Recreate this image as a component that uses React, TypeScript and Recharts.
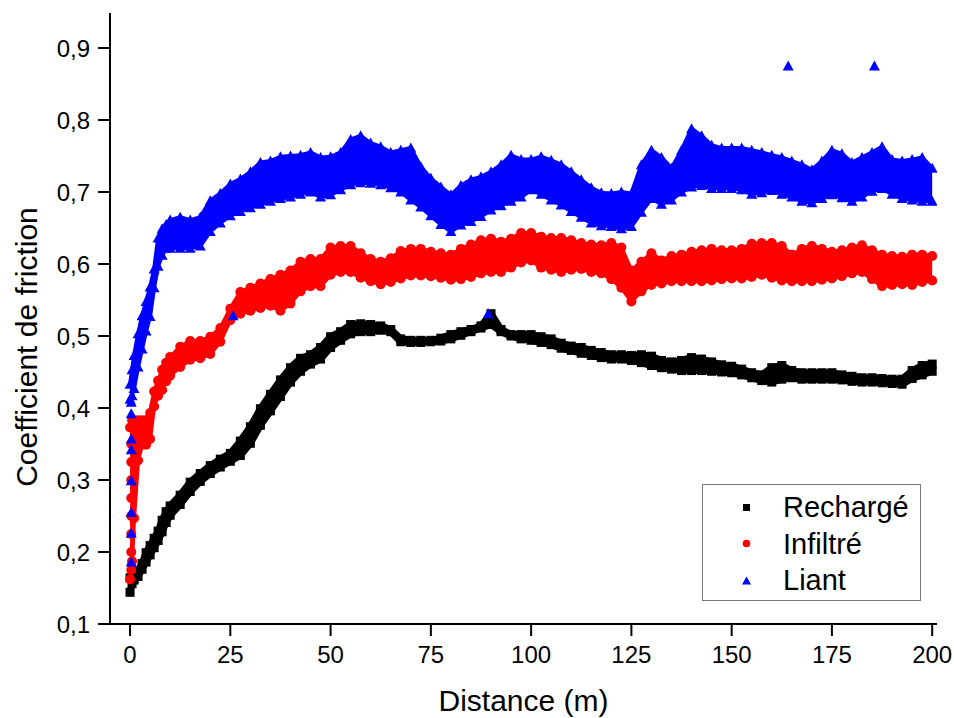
import { ComposedChart, Area, Scatter, XAxis, YAxis, Legend, Label } from 'recharts'

const F = '"Liberation Sans", Arial, sans-serif'
const BLACK = '#000000'
const RED = '#ff0000'
const BLUE = '#0000ff'

// distance (m) where the band edges were read
const DIST = [
  0, 0.5, 1, 2, 3, 4, 5, 6, 7, 8, 9,
  10, 12.5, 15, 17.5, 20, 22.5, 25, 27.5, 30, 32.5, 35, 37.5, 40, 42.5, 45, 47.5,
  50, 52.5, 55, 57.5, 60, 62.5, 65, 67.5, 70, 72.5, 75, 77.5, 80, 82.5, 85, 87.5, 90, 92.5, 95, 97.5,
  100, 102.5, 105, 107.5, 110, 112.5, 115, 117.5, 120, 122.5, 125, 127.5, 130, 132.5, 135, 137.5, 140, 142.5, 145, 147.5,
  150, 152.5, 155, 157.5, 160, 162.5, 165, 167.5, 170, 172.5, 175, 177.5, 180, 182.5, 185, 187.5, 190, 192.5, 195, 197.5, 200,
]

// Rechargé : upper / lower edge of the point cloud
const RECHARGE_HI = [
  0.164, 0.164, 0.164, 0.174, 0.184, 0.199, 0.209, 0.219, 0.229, 0.244, 0.256,
  0.264, 0.279, 0.297, 0.309, 0.32, 0.329, 0.337, 0.354, 0.374, 0.399, 0.419, 0.439, 0.456, 0.469, 0.474, 0.484,
  0.499, 0.506, 0.516, 0.517, 0.516, 0.514, 0.509, 0.496, 0.494, 0.494, 0.494, 0.497, 0.502, 0.506, 0.509, 0.514, 0.531, 0.509, 0.502, 0.502,
  0.502, 0.499, 0.496, 0.49, 0.486, 0.484, 0.48, 0.477, 0.474, 0.474, 0.473, 0.474, 0.472, 0.466, 0.464, 0.466, 0.47, 0.468, 0.464, 0.46,
  0.458, 0.454, 0.449, 0.446, 0.456, 0.459, 0.452, 0.449, 0.449, 0.449, 0.449, 0.446, 0.444, 0.442, 0.442, 0.441, 0.44, 0.44, 0.452, 0.459, 0.461,
]
const RECHARGE_LO = [
  0.144, 0.156, 0.161, 0.166, 0.176, 0.186, 0.196, 0.206, 0.216, 0.228, 0.241,
  0.251, 0.266, 0.284, 0.298, 0.309, 0.318, 0.326, 0.334, 0.351, 0.376, 0.396, 0.416, 0.436, 0.451, 0.461, 0.468,
  0.484, 0.494, 0.503, 0.506, 0.506, 0.508, 0.506, 0.492, 0.491, 0.491, 0.492, 0.493, 0.496, 0.501, 0.506, 0.511, 0.516, 0.506, 0.5, 0.496,
  0.494, 0.491, 0.488, 0.483, 0.48, 0.476, 0.473, 0.47, 0.468, 0.468, 0.466, 0.463, 0.459, 0.456, 0.454, 0.452, 0.452, 0.452, 0.451, 0.45,
  0.449, 0.446, 0.442, 0.438, 0.436, 0.44, 0.442, 0.44, 0.44, 0.44, 0.44, 0.439, 0.437, 0.436, 0.436, 0.435, 0.434, 0.433, 0.441, 0.446, 0.451,
]

// Infiltré
const INFILTRE_HI = [
  0.373, 0.383, 0.383, 0.383, 0.383, 0.383, 0.393, 0.423, 0.438, 0.453, 0.463,
  0.471, 0.485, 0.493, 0.493, 0.499, 0.511, 0.538, 0.561, 0.567, 0.573, 0.579, 0.585, 0.591, 0.603, 0.607, 0.607,
  0.623, 0.625, 0.625, 0.615, 0.607, 0.603, 0.608, 0.618, 0.621, 0.621, 0.617, 0.615, 0.613, 0.621, 0.627, 0.633, 0.635, 0.631, 0.635, 0.643,
  0.643, 0.638, 0.636, 0.636, 0.633, 0.629, 0.627, 0.626, 0.629, 0.623, 0.591, 0.603, 0.615, 0.605, 0.611, 0.613, 0.617, 0.619, 0.621, 0.619,
  0.619, 0.621, 0.628, 0.629, 0.629, 0.625, 0.613, 0.621, 0.625, 0.621, 0.617, 0.619, 0.623, 0.626, 0.619, 0.613, 0.611, 0.61, 0.613, 0.613, 0.611,
]
const INFILTRE_LO = [
  0.162, 0.187, 0.247, 0.327, 0.349, 0.349, 0.357, 0.402, 0.417, 0.425, 0.437,
  0.445, 0.457, 0.467, 0.469, 0.475, 0.492, 0.522, 0.531, 0.535, 0.539, 0.542, 0.535, 0.545, 0.562, 0.569, 0.569,
  0.585, 0.589, 0.589, 0.581, 0.576, 0.572, 0.575, 0.58, 0.584, 0.584, 0.583, 0.581, 0.578, 0.579, 0.582, 0.587, 0.589, 0.589, 0.595, 0.602,
  0.605, 0.595, 0.592, 0.589, 0.592, 0.593, 0.589, 0.587, 0.579, 0.567, 0.548, 0.562, 0.571, 0.573, 0.576, 0.576, 0.576, 0.576, 0.577, 0.579,
  0.58, 0.58, 0.582, 0.585, 0.581, 0.577, 0.576, 0.576, 0.576, 0.578, 0.58, 0.583, 0.587, 0.589, 0.579, 0.569, 0.571, 0.572, 0.571, 0.575, 0.577,
]
// the vertical run of points at the very start (d = 0.3 m)
const INFILTRE_DEBUT = [0.175, 0.2, 0.225, 0.25, 0.275, 0.3, 0.325, 0.35]

// Liant
const LIANT_HI = [
  0.433, 0.453, 0.473, 0.503, 0.528, 0.548, 0.568, 0.593, 0.636, 0.649, 0.655,
  0.661, 0.665, 0.661, 0.665, 0.688, 0.698, 0.711, 0.718, 0.728, 0.741, 0.743, 0.749, 0.75, 0.751, 0.755, 0.748,
  0.749, 0.755, 0.773, 0.778, 0.768, 0.763, 0.755, 0.758, 0.761, 0.735, 0.719, 0.707, 0.696, 0.709, 0.717, 0.721, 0.728, 0.738, 0.751, 0.745,
  0.745, 0.749, 0.744, 0.738, 0.728, 0.717, 0.706, 0.699, 0.698, 0.7, 0.698, 0.738, 0.758, 0.748, 0.733, 0.758, 0.788, 0.778, 0.765, 0.761,
  0.761, 0.761, 0.758, 0.755, 0.751, 0.748, 0.743, 0.738, 0.731, 0.743, 0.758, 0.753, 0.741, 0.748, 0.755, 0.763, 0.745, 0.743, 0.745, 0.748, 0.733,
]
const LIANT_LO = [
  0.412, 0.417, 0.427, 0.457, 0.482, 0.507, 0.527, 0.567, 0.597, 0.612, 0.622,
  0.622, 0.622, 0.622, 0.625, 0.645, 0.657, 0.667, 0.673, 0.678, 0.683, 0.687, 0.691, 0.693, 0.697, 0.7, 0.693,
  0.696, 0.703, 0.71, 0.713, 0.712, 0.71, 0.706, 0.7, 0.689, 0.679, 0.667, 0.655, 0.645, 0.654, 0.659, 0.666, 0.675, 0.681, 0.687, 0.693,
  0.703, 0.697, 0.689, 0.682, 0.673, 0.665, 0.657, 0.653, 0.652, 0.649, 0.652, 0.672, 0.691, 0.683, 0.689, 0.7, 0.707, 0.709, 0.705, 0.705,
  0.705, 0.703, 0.697, 0.699, 0.702, 0.697, 0.693, 0.687, 0.685, 0.691, 0.696, 0.692, 0.687, 0.693, 0.701, 0.705, 0.697, 0.691, 0.689, 0.687, 0.687,
]
// isolated triangles
const LIANT_ISOLES_D = [0.3, 0.3, 0.3, 0.3, 0.3, 0.3, 0.3, 0.3, 25.7, 89.3, 164.1, 185.6]
const LIANT_ISOLES_V = [0.186, 0.226, 0.255, 0.299, 0.342, 0.357, 0.392, 0.408, 0.528, 0.531, 0.875, 0.875]

const X_TICKS = [0, 25, 50, 75, 100, 125, 150, 175, 200]
const X_MINOR = [12.5, 37.5, 62.5, 87.5, 112.5, 137.5, 162.5, 187.5]
const Y_TICKS = [0.1, 0.2, 0.3, 0.4, 0.5, 0.6, 0.7, 0.8, 0.9]
const Y_MINOR = [0.15, 0.25, 0.35, 0.45, 0.55, 0.65, 0.75, 0.85]

const X_DOMAIN: [number, number] = [-5, 201.2]
const Y_DOMAIN: [number, number] = [0.1, 0.9486]

const rows = DIST.map((d, i) => ({
  d,
  rLo: RECHARGE_LO[i], rHi: RECHARGE_HI[i],
  iLo: INFILTRE_LO[i], iHi: INFILTRE_HI[i],
  lLo: LIANT_LO[i], lHi: LIANT_HI[i],
}))
const infiltreDebut = INFILTRE_DEBUT.map(v => ({ d: 0.3, v }))
const liantIsoles = LIANT_ISOLES_D.map((d, i) => ({ d, v: LIANT_ISOLES_V[i] }))

const Square = (p: any) => <rect x={p.cx - 4.5} y={p.cy - 4.5} width={9} height={9} fill={BLACK} />
const Dot = (p: any) => <circle cx={p.cx} cy={p.cy} r={5} fill={RED} />
const Tri = (p: any) => (
  <polygon points={`${p.cx},${p.cy - 5.5} ${p.cx + 5.5},${p.cy + 4.5} ${p.cx - 5.5},${p.cy + 4.5}`} fill={BLUE} />
)

const tickStyle = { fontFamily: F, fontSize: 24, fill: '#000' }
const lineStyle = { stroke: '#000', strokeWidth: 2 }

function LegendBox() {
  const items = [
    { name: 'Rechargé', icon: <rect x={1} y={1} width={7} height={7} fill={BLACK} /> },
    { name: 'Infiltré', icon: <circle cx={4.5} cy={4.5} r={3.8} fill={RED} /> },
    { name: 'Liant', icon: <polygon points="4.5,0.5 9,8.5 0,8.5" fill={BLUE} /> },
  ]
  return (
    <div style={{
      position: 'relative', width: 219, height: 117, boxSizing: 'border-box',
      border: '1px solid #7a7a7a', background: '#fff', fontFamily: F,
    }}>
      {items.map((it, i) => (
        <div key={it.name} style={{
          position: 'absolute', left: 0, top: 4 + i * 36.5, height: 36, width: 218,
          display: 'flex', alignItems: 'center',
        }}>
          <svg width={9} height={9} style={{ marginLeft: 39 }}>{it.icon}</svg>
          <span style={{ marginLeft: 32, fontSize: 29, lineHeight: '36px', color: '#000' }}>{it.name}</span>
        </div>
      ))}
    </div>
  )
}

// band fill: a thin stroke of the same colour closes the gaps between markers
const band = (color: string) => ({
  type: 'linear' as const, fill: color, fillOpacity: 1, stroke: color,
  strokeWidth: 4, strokeLinejoin: 'round' as const, isAnimationActive: false,
})

export default function App() {
  return (
    <div style={{ position: 'absolute', left: 0, top: 0, width: 954, height: 718, background: '#fff' }}>
      <ComposedChart
        width={954}
        height={718}
        data={rows}
        margin={{ top: 13, right: 17, bottom: 34, left: 30 }}
      >
        {/* minor ticks first so they sit on the plot edge */}
        <XAxis xAxisId="minor" type="number" dataKey="d" domain={X_DOMAIN} ticks={X_MINOR}
          height={0} tick={false} axisLine={false} tickSize={7} tickLine={lineStyle} allowDataOverflow />
        <XAxis type="number" dataKey="d" domain={X_DOMAIN} ticks={X_TICKS} interval={0}
          height={60} tickSize={12} tickMargin={10} tick={tickStyle}
          axisLine={lineStyle} tickLine={lineStyle} allowDataOverflow>
          <Label content={() => (
            <text x={523.5} y={711} textAnchor="middle" fontFamily={F} fontSize={30} fill="#000">Distance (m)</text>
          )} />
        </XAxis>
        <XAxis xAxisId="top" orientation="top" type="number" dataKey="d" domain={X_DOMAIN}
          height={0} tick={false} tickLine={false} axisLine={lineStyle} allowDataOverflow />

        <YAxis yAxisId="minor" type="number" domain={Y_DOMAIN} ticks={Y_MINOR}
          width={0} tick={false} axisLine={false} tickSize={6} tickLine={lineStyle} allowDataOverflow />
        <YAxis type="number" domain={Y_DOMAIN} ticks={Y_TICKS} interval={0}
          width={80} tickSize={12} tickMargin={8} tick={tickStyle}
          tickFormatter={(v: number) => v.toFixed(1).replace('.', ',')}
          axisLine={lineStyle} tickLine={lineStyle} allowDataOverflow>
          <Label content={() => (
            <text x={37} y={347} transform="rotate(-90 37 347)" textAnchor="middle"
              fontFamily={F} fontSize={30} fill="#000">Coefficient de friction</text>
          )} />
        </YAxis>
        <YAxis yAxisId="right" orientation="right" type="number" domain={Y_DOMAIN}
          width={0} tick={false} tickLine={false} axisLine={lineStyle} allowDataOverflow />

        <Area dataKey={(r: any) => [r.rLo, r.rHi]} {...band(BLACK)} strokeWidth={7} />
        <Scatter name="Rechargé" dataKey="rHi" shape={Square} isAnimationActive={false} />
        <Scatter dataKey="rLo" shape={Square} isAnimationActive={false} legendType="none" />

        <Area dataKey={(r: any) => [r.iLo, r.iHi]} {...band(RED)} />
        <Scatter name="Infiltré" dataKey="iHi" shape={Dot} isAnimationActive={false} />
        <Scatter dataKey="iLo" shape={Dot} isAnimationActive={false} legendType="none" />
        <Scatter data={infiltreDebut} dataKey="v" shape={Dot} isAnimationActive={false} legendType="none" />

        <Area dataKey={(r: any) => [r.lLo, r.lHi]} {...band(BLUE)} />
        <Scatter name="Liant" dataKey="lHi" shape={Tri} isAnimationActive={false} />
        <Scatter dataKey="lLo" shape={Tri} isAnimationActive={false} legendType="none" />
        <Scatter data={liantIsoles} dataKey="v" shape={Tri} isAnimationActive={false} legendType="none" />

        <Legend layout="vertical" align="center" verticalAlign="middle"
          wrapperStyle={{ left: 702, top: 484, width: 219, height: 117 }}
          content={() => <LegendBox />} />
      </ComposedChart>
    </div>
  )
}
